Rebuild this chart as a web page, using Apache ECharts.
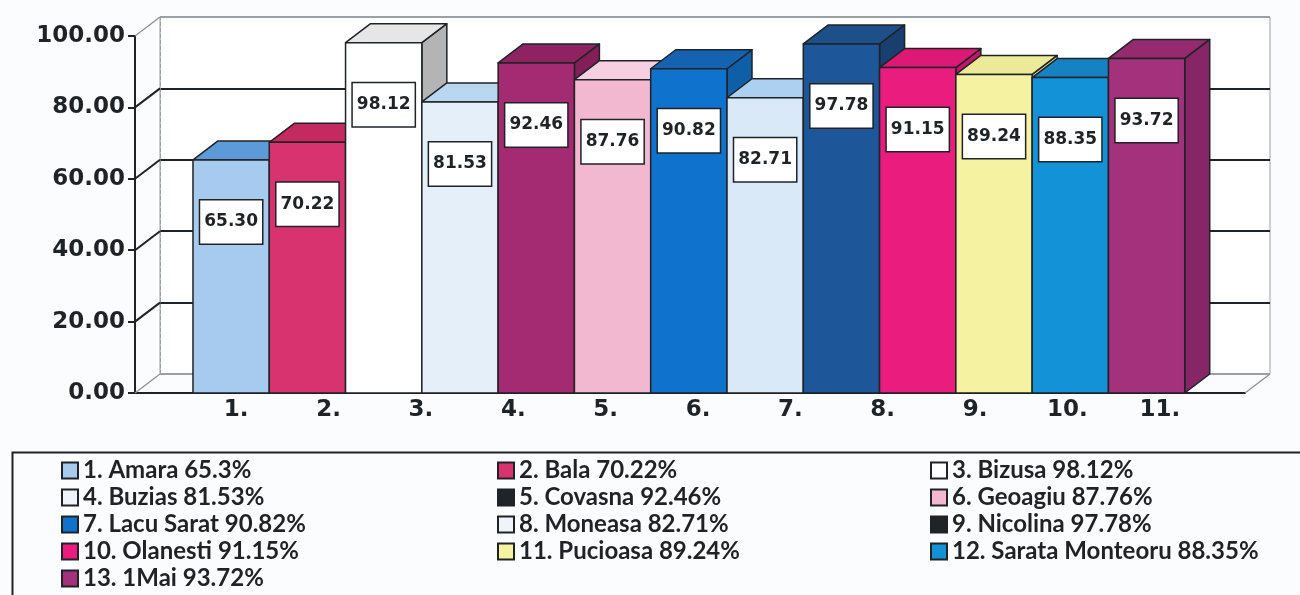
<!DOCTYPE html>
<html>
<head>
<meta charset="utf-8">
<script src="https://cdn.jsdelivr.net/npm/echarts@6/dist/echarts.min.js"></script>
<style>
  html, body { margin: 0; padding: 0; background: #fbfcfd; }
  #chart { width: 1300px; height: 595px; }
</style>
</head>
<body>
<div id="chart"></div>
<script>
// data
var names = ['Amara', 'Bala', 'Bizusa', 'Buzias', 'Covasna', 'Geoagiu', 'Lacu Sarat',
             'Moneasa', 'Nicolina', 'Olanesti', 'Pucioasa', 'Sarata Monteoru', '1Mai'];
var values = [65.30, 70.22, 98.12, 81.53, 92.46, 87.76, 90.82, 82.71, 97.78, 91.15, 89.24, 88.35, 93.72];
var axisLabels = ['1.', '2.', '3.', '4.', '5.', '6.', '7.', '8.', '9.', '10.', '11.'];
var yTicks = [0, 20, 40, 60, 80, 100];

// colours of the three visible faces of each bar, and of the legend keys
var frontColors = ['#a7cbee', '#d8336f', '#ffffff', '#e4eff9', '#a42a72', '#f2b8d0', '#0f72cc',
                   '#dae9f7', '#1d5799', '#ea1c7e', '#f5f3a2', '#1492d8', '#a3317c'];
var topColors = ['#5d9ad8', '#c42a60', '#e6e6e6', '#b9d7f1', '#8f2362', '#f6cfe0', '#1562b0',
                 '#acd0f0', '#1d4f88', '#dc1a75', '#ecea98', '#1582c4', '#952a6f'];
var sideColors = ['#7fb0e0', '#b52656', '#b4b4b4', '#c3dcf2', '#821f59', '#e3a5c0', '#0f5ea8',
                  '#b9d5ef', '#173f70', '#c4176a', '#dcd98c', '#1279b3', '#862666'];
var legendColors = ['#a7cbee', '#d8336f', '#ffffff', '#eef4fa', '#1e2428', '#f2b8d0', '#0f72cc',
                    '#eef4fa', '#1e2428', '#ea1c7e', '#f5f3a2', '#1492d8', '#a3317c'];

var DX = 25, DY = -19;   // depth of the 3d look
var XMIN = -1.26, XMAX = 13.29;
var INK = '#1f2326';
var NUM_FONT = 'DejaVu Sans';

var legendNames = names.map(function (n, i) { return (i + 1) + '. ' + n + ' ' + values[i] + '%'; });

var chart = echarts.init(document.getElementById('chart'));

function barSeries(i) {
    return {
        type: 'custom',
        name: legendNames[i],
        xAxisIndex: 0,
        yAxisIndex: 0,
        itemStyle: { color: legendColors[i] },
        data: [[i, values[i]]],
        renderItem: function (params, api) {
            var x = api.value(0), v = api.value(1);
            var bl = api.coord([x - 0.5, 0]);
            var tr = api.coord([x + 0.5, v]);
            var l = bl[0], r = tr[0], b = bl[1], t = tr[1];
            var line = { stroke: INK, lineWidth: 1.5, lineJoin: 'round' };
            return {
                type: 'group',
                children: [
                    {
                        type: 'polygon', z2: i * 10,
                        shape: { points: [[r, b], [r + DX, b + DY], [r + DX, t + DY], [r, t]] },
                        style: Object.assign({ fill: sideColors[i] }, line)
                    },
                    {
                        type: 'polygon', z2: i * 10 + 1,
                        shape: { points: [[l, t], [l + DX, t + DY], [r + DX, t + DY], [r, t]] },
                        style: Object.assign({ fill: topColors[i] }, line)
                    },
                    {
                        type: 'rect', z2: i * 10 + 2,
                        shape: { x: l, y: t, width: r - l, height: b - t },
                        style: Object.assign({ fill: frontColors[i] }, line)
                    },
                    {
                        type: 'text', z2: i * 10 + 3,
                        x: (l + r) / 2, y: t + 62,
                        style: {
                            text: values[i].toFixed(2),
                            fill: INK,
                            font: 'bold 17px "' + NUM_FONT + '"',
                            align: 'center',
                            verticalAlign: 'middle',
                            backgroundColor: '#ffffff',
                            borderColor: INK,
                            borderWidth: 1.5,
                            padding: [13, 4]
                        }
                    }
                ]
            };
        }
    };
}

// short slanted lines joining the front axis to the back wall
var wallData = yTicks.map(function (v) { return [XMIN, v]; });
wallData.push([XMAX, 0]);
var wallSeries = {
    type: 'custom',
    xAxisIndex: 0,
    yAxisIndex: 0,
    silent: true,
    z: 5,
    data: wallData,
    renderItem: function (params, api) {
        var xv = api.value(0), v = api.value(1);
        var p = api.coord([xv, v]);
        var dark = xv < 0 && v > 0 && v < 100;
        return {
            type: 'polyline',
            shape: { points: [[p[0], p[1]], [p[0] + DX, p[1] + DY]] },
            style: { fill: null, stroke: dark ? INK : '#8a8f94', lineWidth: dark ? 2 : 1.2 }
        };
    }
};

var series = [wallSeries];
for (var i = 0; i < values.length; i++) series.push(barSeries(i));

function legendCol(idx, left) {
    return {
        orient: 'vertical',
        left: left,
        top: 457,
        padding: 0,
        itemGap: 0,
        itemWidth: 16,
        itemHeight: 16,
        icon: 'rect',
        selectedMode: false,
        itemStyle: { borderColor: INK, borderWidth: 2 },
        textStyle: { fontFamily: 'Lato', fontWeight: 'bold', fontSize: 24, color: INK, lineHeight: 27 },
        data: idx.map(function (k) {
            return { name: legendNames[k], itemStyle: { color: legendColors[k] } };
        })
    };
}

chart.setOption({
    animation: false,
    backgroundColor: '#fbfcfd',
    grid: [
        { left: 135, right: 55, top: 36, bottom: 202 },                // front plane
        { left: 190, right: 94, top: 36, bottom: 202 },                // tick labels
        { left: 160, right: 30, top: 17, bottom: 221, show: true,      // back wall
          backgroundColor: '#ffffff', borderColor: '#9aa0a5', borderWidth: 1, z: 0 }
    ],
    xAxis: [
        { gridIndex: 0, type: 'value', min: XMIN, max: XMAX,
          axisLine: { show: true, onZero: false, lineStyle: { color: INK, width: 2 } },
          axisTick: { show: false }, axisLabel: { show: false }, splitLine: { show: false } },
        { gridIndex: 1, type: 'category', data: axisLabels, boundaryGap: true,
          axisLine: { show: false }, axisTick: { show: false },
          axisLabel: { margin: 6, color: INK, fontFamily: NUM_FONT, fontWeight: 'bold', fontSize: 23 } },
        { gridIndex: 2, type: 'value', min: 0, max: 1, show: false }
    ],
    yAxis: [
        { gridIndex: 0, type: 'value', min: 0, max: 100, interval: 20,
          axisLine: { show: true, onZero: false, lineStyle: { color: INK, width: 2 } },
          axisTick: { show: true, length: 7, lineStyle: { color: INK, width: 2 } },
          splitLine: { show: false },
          axisLabel: { margin: 10, color: INK, fontFamily: NUM_FONT, fontWeight: 'bold', fontSize: 23,
                       formatter: function (v) { return v.toFixed(2); } } },
        { gridIndex: 1, type: 'value', min: 0, max: 100, show: false },
        { gridIndex: 2, type: 'value', min: 0, max: 100, interval: 20,
          axisLine: { show: true, lineStyle: { color: '#9aa0a5', width: 1, type: 'dashed' } },
          axisTick: { show: false }, axisLabel: { show: false },
          splitLine: { show: true, lineStyle: {
              color: ['#9aa0a5', INK, INK, INK, INK, '#9aa0a5'], width: 2 } } }
    ],
    legend: [
        legendCol([0, 3, 6, 9, 12], 61),
        legendCol([1, 4, 7, 10], 497),
        legendCol([2, 5, 8, 11], 930)
    ],
    graphic: [
        { type: 'rect', left: 10, top: 450, z: -1,
          shape: { width: 1300, height: 200 },
          style: { fill: 'none', stroke: INK, lineWidth: 2 } }
    ],
    series: series
});
</script>
</body>
</html>
